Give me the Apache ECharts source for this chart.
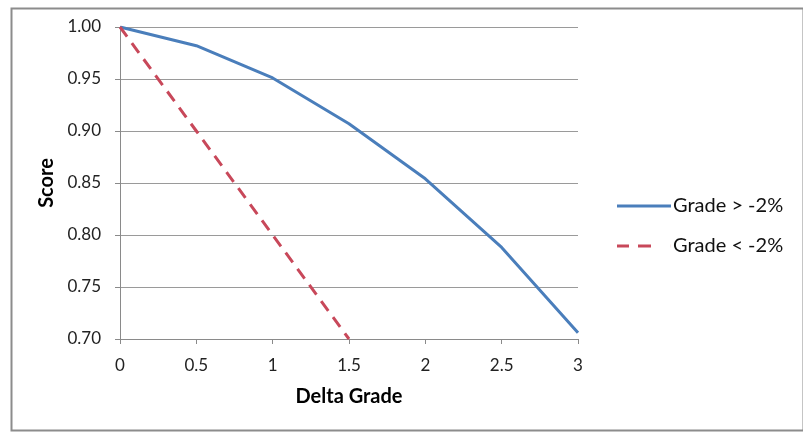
<!DOCTYPE html>
<html>
<head>
<meta charset="utf-8">
<script src="https://cdn.jsdelivr.net/npm/echarts@6/dist/echarts.min.js"></script>
<style>html,body{margin:0;padding:0;background:#fff;}#c{width:803px;height:432px;}</style>
</head>
<body>
<div id="c"></div>
<script>
var deltaGrade = [0, 0.5, 1, 1.5, 2, 2.5, 3];
var scoreAbove = [1.00, 0.982, 0.951, 0.907, 0.854, 0.788, 0.706];
var deltaGradeSteep = [0, 0.5, 1, 1.5];
var scoreBelow = [1.00, 0.90, 0.80, 0.70];
var seriesNames = ['Grade > -2%', 'Grade < -2%'];
var xTitle = 'Delta Grade';
var yTitle = 'Score';

function pairs(xs, ys) { return xs.map(function (x, i) { return [x, ys[i]]; }); }

var font = 'Lato';
var blue = '#4a7ebb', red = '#c8485a';
var chart = echarts.init(document.getElementById('c'), null, { renderer: 'canvas' });
chart.setOption({
  animation: false,
  backgroundColor: '#ffffff',
  graphic: [{
    type: 'rect', left: 9, top: 6, silent: true,
    shape: { width: 792, height: 422 },
    style: { fill: 'none', stroke: '#8c8c8c', lineWidth: 2 }
  }],
  grid: { left: 120, top: 27, right: 225, bottom: 93, containLabel: false },
  legend: {
    orient: 'vertical', left: 612, top: 191, itemWidth: 54, itemHeight: 3, itemGap: 20,
    textStyle: { fontFamily: font, fontSize: 20, lineHeight: 20, color: '#111', padding: [0, 0, 0, -3] },
    data: [
      { name: seriesNames[0], icon: 'path://M0,0H54V3H0Z', itemStyle: { color: blue } },
      { name: seriesNames[1], icon: 'path://M0,0H12V3H0Z M21,0H34V3H21Z M53.9,0H54V3H53.9Z', itemStyle: { color: red } }
    ]
  },
  xAxis: {
    type: 'value', min: 0, max: 3, interval: 0.5,
    name: xTitle, nameLocation: 'middle', nameGap: 48,
    nameTextStyle: { fontFamily: font, fontSize: 20, fontWeight: 'bold', color: '#000' },
    axisLine: { show: true, lineStyle: { color: '#8a8a8a', width: 1 } },
    axisTick: { show: true, length: 5, lineStyle: { color: '#8a8a8a' } },
    axisLabel: { margin: 18, fontFamily: font, fontSize: 17, color: '#222' },
    splitLine: { show: false }
  },
  yAxis: {
    type: 'value', min: 0.7, max: 1.0, interval: 0.05,
    name: yTitle, nameLocation: 'middle', nameGap: 62, nameRotate: 90,
    nameTextStyle: { fontFamily: font, fontSize: 20, fontWeight: 'bold', color: '#000' },
    axisLine: { show: true, lineStyle: { color: '#8a8a8a', width: 1 } },
    axisTick: { show: true, length: 5, lineStyle: { color: '#8a8a8a' } },
    axisLabel: { margin: 19, fontFamily: font, fontSize: 17, color: '#222',
      formatter: function (v) { return v.toFixed(2); } },
    splitLine: { show: true, lineStyle: { color: '#9a9a9a', width: 1 } }
  },
  series: [{
    name: seriesNames[0], type: 'line', symbol: 'none', smooth: false,
    data: pairs(deltaGrade, scoreAbove),
    lineStyle: { color: blue, width: 3 },
    itemStyle: { color: blue }
  }, {
    name: seriesNames[1], type: 'line', symbol: 'none',
    data: pairs(deltaGradeSteep, scoreBelow),
    lineStyle: { color: red, width: 3, type: [12, 8] },
    itemStyle: { color: red }
  }]
});
</script>
</body>
</html>
